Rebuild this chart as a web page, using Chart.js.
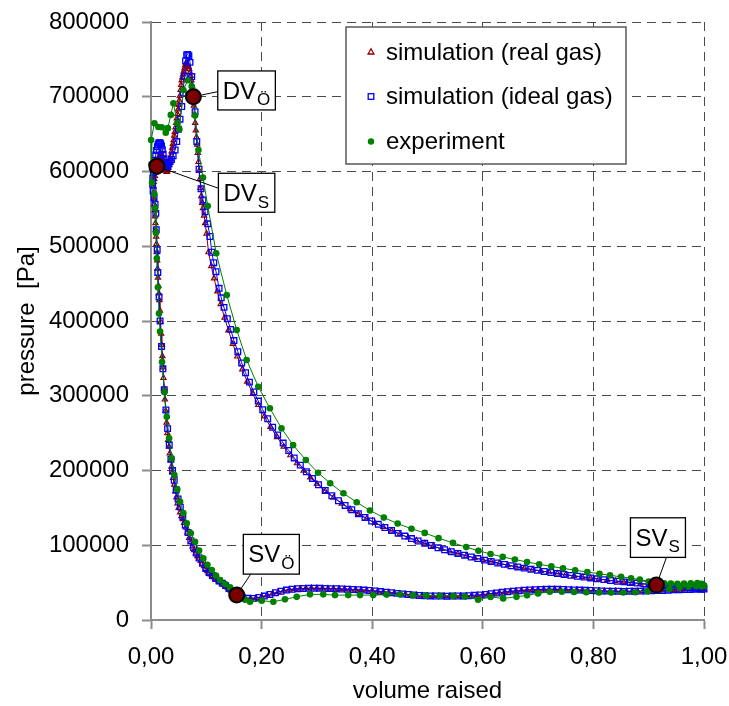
<!DOCTYPE html>
<html>
<head>
<meta charset="utf-8">
<title>p-V diagram</title>
<script src="https://cdn.jsdelivr.net/npm/chart.js@4.4.0/dist/chart.umd.min.js"></script>
<style>
  html, body { margin: 0; padding: 0; background: #ffffff; }
  canvas { display: block; }
</style>
</head>
<body>
<canvas id="pv" width="729" height="706"></canvas>
<script>
// ---- data: [volume raised, pressure in Pa] ----
const seriesNames = ['simulation (real gas)', 'simulation (ideal gas)', 'experiment'];

const realGas = [
  [0.914,46700],[0.900,47500],[0.885,48600],[0.870,49700],[0.855,50900],[0.840,52100],[0.825,53400],[0.810,54800],
  [0.795,56200],[0.780,57600],[0.765,59000],[0.750,60600],[0.735,62200],[0.720,63900],[0.705,65600],[0.690,67400],
  [0.675,69300],[0.660,71300],[0.645,73400],[0.630,75700],[0.615,78100],[0.600,80500],[0.585,83100],[0.570,85900],
  [0.555,88800],[0.540,91900],[0.525,95200],[0.510,98700],[0.495,102400],[0.480,106300],[0.465,110400],[0.450,114800],
  [0.435,119500],[0.420,124500],[0.405,129800],[0.390,135500],[0.375,141700],[0.360,148400],[0.345,155700],[0.330,163700],
  [0.315,172500],[0.300,182300],[0.288,190800],[0.276,199800],[0.264,209700],[0.252,220400],[0.240,232000],[0.228,244600],
  [0.216,258400],[0.205,272400],[0.194,287600],[0.184,302600],[0.174,319000],[0.165,335300],[0.156,352500],[0.148,369300],
  [0.140,387500],[0.133,404400],[0.126,422500],[0.120,439500],[0.114,457000],[0.109,473500],[0.104,492000],[0.1005,517000],
  [0.098,531000],[0.096,541000],[0.094,551000],[0.0925,558000],[0.091,567000],[0.0897,578000],[0.0885,590000],[0.0873,601000],
  [0.086,613000],[0.0848,625000],[0.0835,636000],[0.0822,646000],[0.081,655000],[0.0798,665000],[0.0786,676000],[0.0775,688000],
  [0.0766,700000],[0.0755,707000],[0.0742,715000],[0.073,722000],[0.0718,728000],[0.0705,733000],[0.0692,737000],[0.068,740000],
  [0.0668,742000],[0.0655,744000],[0.0642,745000],[0.063,745000],[0.0618,742000],[0.0605,738000],[0.0592,734000],[0.058,730000],
  [0.0568,726000],[0.0556,722000],[0.0545,716000],[0.0534,709000],[0.0522,701000],[0.0511,695000],[0.050,689000],[0.0489,683000],
  [0.0478,677000],[0.0466,671000],[0.0455,665000],[0.0443,659000],[0.0432,653000],[0.042,648000],[0.0408,642000],[0.0396,637000],
  [0.0385,632000],[0.0373,627000],[0.0361,622000],[0.035,617000],[0.0338,613000],[0.0326,609000],[0.0315,605000],[0.0303,602000],
  [0.0292,600000],[0.028,599500],[0.0268,601000],[0.0257,604000],[0.0245,608000],[0.0233,612000],[0.0221,616000],[0.021,620000],
  [0.0198,622000],[0.0186,623500],[0.0174,624000],[0.0163,623000],[0.0151,620000],[0.014,616000],[0.0128,612000],[0.0116,609000],
  [0.0105,607000],[0.0095,603000],[0.0082,598000],[0.007,594000],[0.0058,590000],[0.0048,586000],[0.0045,580000],[0.0048,572000],
  [0.0054,564000],[0.006,556000],[0.0067,548000],[0.0074,540000],[0.008,531000],[0.0087,522000],[0.0093,513000],[0.0099,503000],
  [0.0105,492000],[0.0112,481000],[0.0118,470000],[0.0126,458000],[0.0134,447000],[0.0143,437000],[0.0152,428000],[0.0162,414000],
  [0.0173,399000],[0.0184,383000],[0.0195,368000],[0.0205,353000],[0.0216,338000],[0.0226,324000],[0.0237,310000],[0.0251,295000],
  [0.0266,280000],[0.0281,264000],[0.0296,250000],[0.031,241000],[0.0325,232000],[0.034,223000],[0.0355,214000],[0.037,205000],
  [0.0385,197000],[0.040,190000],[0.042,181000],[0.044,172000],[0.046,164000],[0.048,156000],[0.050,150000],[0.0525,144000],
  [0.055,139000],[0.0575,135000],[0.060,130000],[0.063,124000],[0.066,117000],[0.069,110000],[0.072,104000],[0.075,98500],
  [0.078,93500],[0.081,89000],[0.084,85500],[0.087,82500],[0.090,79000],[0.093,75500],[0.096,72000],[0.099,68500],
  [0.102,65500],[0.105,63000],[0.108,61000],[0.111,59000],[0.114,57000],[0.117,55000],[0.120,53500],[0.123,52000],
  [0.126,50500],[0.129,49000],[0.132,47000],[0.135,45500],[0.138,43500],[0.141,41500],[0.144,39500],[0.147,37500],
  [0.150,35800],[0.153,34300],[0.155,33300],
  [0.160,31400],[0.170,29300],[0.180,28800],[0.190,29400],[0.200,31000],[0.210,33000],[0.220,35300],[0.230,37400],
  [0.240,39200],[0.250,40600],[0.260,41500],[0.270,42000],[0.280,42300],[0.290,42400],[0.300,42400],[0.310,42300],
  [0.320,42100],[0.330,41900],[0.340,41600],[0.350,41300],[0.360,41000],[0.370,40600],[0.380,40200],[0.390,39700],
  [0.400,39100],[0.410,38400],[0.420,37600],[0.430,36800],[0.440,36000],[0.450,35200],[0.460,34400],[0.470,33700],
  [0.480,33100],[0.490,32600],[0.500,32300],[0.510,32100],[0.520,32000],[0.530,31900],[0.540,31900],[0.550,32000],
  [0.560,32100],[0.570,32300],[0.580,32700],[0.590,33200],[0.600,33900],[0.610,34700],[0.620,35600],[0.630,36500],
  [0.640,37400],[0.650,38200],[0.660,38900],[0.670,39500],[0.680,40000],[0.690,40400],[0.700,40700],[0.710,40900],
  [0.720,41000],[0.730,41000],[0.740,40900],[0.750,40700],[0.760,40400],[0.770,40100],[0.780,39800],[0.790,39500],
  [0.800,39200],[0.810,38900],[0.820,38700],[0.830,38500],[0.840,38400],[0.850,38300],[0.860,38300],[0.870,38400],
  [0.880,38500],[0.890,38700],[0.900,38900],[0.910,39200],[0.920,39500],[0.930,39800],[0.940,40100],[0.950,40400],
  [0.960,40600],[0.970,40800],[0.980,41000],[0.990,41100],[1.000,41200],
  [0.995,41600],[0.990,42000],[0.980,42700],[0.970,43300],[0.960,43900],[0.950,44500],[0.940,45000],[0.930,45600],
  [0.920,46200],[0.914,46700]
];

const idealGas = [
  [0.914,46900],[0.903,47600],[0.891,48500],[0.879,49400],[0.867,50300],[0.855,51000],[0.843,51900],[0.831,52900],
  [0.819,54000],[0.807,55100],[0.795,56300],[0.783,57400],[0.771,58500],[0.759,59700],[0.747,61000],[0.735,62300],
  [0.723,63600],[0.711,65000],[0.699,66400],[0.687,67800],[0.675,69400],[0.663,71000],[0.651,72600],[0.639,74400],
  [0.627,76200],[0.615,78200],[0.603,80100],[0.591,82200],[0.579,84300],[0.567,86600],[0.555,89000],[0.543,91400],
  [0.531,94000],[0.519,96700],[0.507,99600],[0.495,102600],[0.483,105700],[0.471,108900],[0.459,112300],[0.447,115900],
  [0.435,119800],[0.423,123800],[0.411,128000],[0.399,132500],[0.387,137200],[0.375,142200],[0.363,147600],[0.351,153300],
  [0.339,159500],[0.327,166200],[0.315,173300],[0.303,181000],[0.292,189400],[0.281,198300],[0.270,207200],[0.259,216800],
  [0.249,226700],[0.239,236700],[0.229,247500],[0.220,257800],[0.211,269200],[0.202,281400],[0.194,292900],[0.186,305100],
  [0.178,318200],[0.171,330800],[0.164,343900],[0.157,359000],[0.150,373800],[0.144,388800],[0.138,403100],[0.132,418200],
  [0.127,431000],[0.1231,443700],[0.1176,466000],[0.1135,478000],[0.1099,492000],[0.1068,513000],[0.1025,530000],[0.0978,546000],
  [0.094,562000],[0.0905,577000],[0.0869,603000],[0.0828,640000],[0.0797,680000],[0.0765,706000],[0.0737,727000],[0.0705,746000],
  [0.0685,755000],[0.0665,756500],[0.0645,756000],[0.0625,748000],[0.0604,727000],[0.058,705000],[0.0556,687000],[0.0525,670000],
  [0.0495,656500],[0.0466,640000],[0.0436,628800],[0.040,621000],[0.037,616000],[0.0345,613200],[0.0323,610000],[0.0303,607400],
  [0.0285,606000],[0.0268,607500],[0.025,612000],[0.0235,617000],[0.022,623000],[0.0205,629000],[0.019,634000],[0.0175,637000],
  [0.016,638600],[0.0145,638400],[0.013,636500],[0.0115,633000],[0.010,628000],[0.0085,622000],[0.007,615000],[0.0055,607000],
  [0.0042,599000],[0.0032,591000],[0.003,583000],[0.0038,574000],[0.0055,565000],[0.0074,556000],[0.0087,544000],[0.0095,522000],
  [0.0112,495000],[0.0123,465000],[0.0146,432000],[0.0164,400000],[0.019,366000],[0.0215,336000],[0.024,308000],[0.027,281000],
  [0.030,256000],[0.033,234000],[0.036,215000],[0.039,200000],[0.042,187000],[0.0455,174000],[0.049,162000],[0.053,151000],
  [0.0575,138000],[0.062,127000],[0.067,117000],[0.072,106000],[0.077,97000],[0.082,89500],[0.087,83000],[0.093,76000],
  [0.099,69000],[0.105,63500],[0.111,59500],[0.117,55500],[0.123,52300],[0.129,49200],[0.135,46000],[0.141,42000],
  [0.147,38000],[0.152,35000],
  [0.158,32300],[0.165,30300],[0.175,29000],[0.185,28900],[0.195,30100],[0.205,32000],[0.215,34200],[0.225,36400],
  [0.235,38400],[0.245,40000],[0.255,41100],[0.265,41800],[0.275,42200],[0.285,42400],[0.295,42500],[0.305,42400],
  [0.315,42200],[0.325,42000],[0.335,41800],[0.345,41500],[0.355,41200],[0.365,40800],[0.375,40400],[0.385,40000],
  [0.395,39400],[0.405,38800],[0.415,38000],[0.425,37200],[0.435,36400],[0.445,35600],[0.455,34800],[0.465,34100],
  [0.475,33400],[0.485,32900],[0.495,32500],[0.505,32200],[0.515,32100],[0.525,32000],[0.535,31900],[0.545,32000],
  [0.555,32100],[0.565,32200],[0.575,32500],[0.585,33000],[0.595,33500],[0.605,34300],[0.615,35200],[0.625,36100],
  [0.635,37000],[0.645,37800],[0.655,38600],[0.665,39200],[0.675,39800],[0.685,40200],[0.695,40600],[0.705,40800],
  [0.715,41000],[0.725,41000],[0.735,41000],[0.745,40800],[0.755,40600],[0.765,40300],[0.775,40000],[0.785,39700],
  [0.795,39400],[0.805,39100],[0.815,38800],[0.825,38600],[0.835,38500],[0.845,38400],[0.855,38300],[0.865,38400],
  [0.875,38400],[0.885,38600],[0.895,38800],[0.905,39000],[0.915,39300],[0.925,39600],[0.935,39900],[0.945,40300],
  [0.955,40500],[0.965,40700],[0.975,40900],[0.985,41000],[0.995,41100],[1.000,41300],
  [0.996,41700],[0.990,42200],[0.982,42800],[0.972,43500],[0.962,44100],[0.951,44700],[0.940,45200],[0.928,45900],
  [0.914,46900]
];

const experiment = [
  [1.000,46000],[0.996,48300],[0.988,49400],[0.976,49000],[0.964,48600],[0.952,48400],[0.940,48600],[0.928,49200],
  [0.916,50100],[0.900,51500],[0.884,54000],[0.868,55800],[0.850,57700],[0.830,59800],[0.811,61900],[0.789,64200],
  [0.767,66600],[0.745,69100],[0.724,71700],[0.702,74500],[0.680,77600],[0.658,80900],[0.636,84400],[0.614,88300],
  [0.592,92600],[0.570,97500],[0.546,103200],[0.520,109500],[0.495,116500],[0.471,122000],[0.446,129000],[0.421,137000],
  [0.396,146500],[0.372,157500],[0.348,169500],[0.324,183000],[0.302,197000],[0.280,214000],[0.257,234000],[0.236,256400],
  [0.215,283200],[0.194,312100],[0.173,347800],[0.155,388000],[0.137,434800],[0.118,490600],[0.1026,553900],[0.094,592000],
  [0.0857,628800],[0.0797,675000],[0.0737,714000],[0.0665,722000],[0.0585,709100],[0.0513,656500],[0.0477,664500],[0.0405,691300],
  [0.0358,675700],[0.0305,658000],[0.0267,652000],[0.0195,659100],[0.0134,659500],[0.0062,664500],[0.0002,642200],[0.0008,610000],
  [0.0018,585000],[0.0061,570000],[0.0074,551000],[0.0090,518000],[0.0105,484000],[0.0125,445000],[0.0145,410000],[0.0164,386000],
  [0.0200,345000],[0.0242,304600],[0.0285,272000],[0.0327,243000],[0.0375,216000],[0.0423,194000],[0.0475,175000],[0.0526,158200],
  [0.0585,143000],[0.0647,129300],[0.0720,116000],[0.0797,104600],[0.0870,93000],[0.0947,82400],[0.1020,74000],[0.1099,66800],
  [0.1175,59500],[0.1249,53400],[0.1340,48000],[0.1429,43600],[0.1520,37000],[0.1610,31000],[0.1700,27000],[0.1790,24400],
  [0.2002,25700],[0.2212,24400],[0.2423,27600],[0.2635,31000],[0.2875,34300],[0.3115,34300],[0.3327,33300],[0.3567,33300],
  [0.3780,33300],[0.4019,33300],[0.4260,34000],[0.4500,34300],[0.4740,33000],[0.4980,32600],[0.5220,32400],[0.5465,32000],
  [0.5676,31500],[0.5916,27100],[0.6140,30800],[0.6368,28900],[0.6610,31000],[0.6800,33000],[0.7000,35600],[0.7212,37700],
  [0.7430,37800],[0.7650,37500],[0.7870,37200],[0.8100,36900],[0.8320,36700],[0.8540,36800],[0.8760,37200],[0.8980,38600],
  [0.9180,40000],[0.9370,41500],[0.9560,43400],[0.9720,44600],[0.9860,45200],[0.9960,44800],[1.000,46000]
];

// valve events: DV = discharge valve, SV = suction valve; Ö = opens, S = closes
const valveNames = ['DV', 'DV', 'SV', 'SV'];
const valveSubs = ['Ö', 'S', 'Ö', 'S'];
const valveVolume = [0.0766, 0.0105, 0.155, 0.914];
const valvePressure = [700000, 607000, 33300, 46700];

const xTickValues = [0, 0.2, 0.4, 0.6, 0.8, 1.0];
const xTickLabels = ['0,00', '0,20', '0,40', '0,60', '0,80', '1,00'];
const yTickValues = [0, 100000, 200000, 300000, 400000, 500000, 600000, 700000, 800000];
const yTickLabels = ['0', '100000', '200000', '300000', '400000', '500000', '600000', '700000', '800000'];
const xTitle = 'volume raised';
const yTitle = 'pressure  [Pa]';

// ---- styling ----
const FONT = "'Liberation Sans', Arial, Helvetica, sans-serif";
const RED = '#8b0000', BLUE = '#0000ff', GREEN = '#008000';
Chart.defaults.font.family = FONT;
Chart.defaults.font.size = 24;
Chart.defaults.color = '#000000';

const toXY = arr => arr.map(([x, y]) => ({ x, y }));

// label boxes placed relative to each valve marker (pixel offsets)
const valveBoxes = [
  { dx: 24.4, dy: -25.8, w: 57.6, h: 39, ax: 0, ay: 20.7 },
  { dx: 61.6, dy: 7.0, w: 56.4, h: 39, ax: 0, ay: 15 },
  { dx: 6.6, dy: -60.7, w: 56, h: 39.7, ax: 7.4, ay: 39.7 },
  { dx: -26, dy: -67.3, w: 55, h: 39.6, ax: 36, ay: 39.6 }
];

const backgroundPlugin = {
  id: 'whiteBackground',
  beforeDraw(chart) {
    const { ctx, width, height } = chart;
    ctx.save();
    ctx.fillStyle = '#ffffff';
    ctx.fillRect(0, 0, width, height);
    ctx.restore();
  }
};

const valvePlugin = {
  id: 'valveMarks',
  afterDatasetsDraw(chart) {
    const { ctx, scales: { x, y } } = chart;
    ctx.save();
    valveNames.forEach((name, i) => {
      const cx = x.getPixelForValue(valveVolume[i]);
      const cy = y.getPixelForValue(valvePressure[i]);
      const b = valveBoxes[i];
      const bx = cx + b.dx, by = cy + b.dy;
      // leader line
      ctx.strokeStyle = '#000';
      ctx.lineWidth = 1;
      ctx.beginPath();
      ctx.moveTo(cx, cy);
      ctx.lineTo(bx + b.ax, by + b.ay);
      ctx.stroke();
      // marker
      ctx.beginPath();
      ctx.arc(cx, cy, 7.5, 0, Math.PI * 2);
      ctx.fillStyle = '#7a0000';
      ctx.fill();
      ctx.lineWidth = 2;
      ctx.strokeStyle = '#000';
      ctx.stroke();
      // label box
      ctx.fillStyle = '#ffffff';
      ctx.fillRect(bx, by, b.w, b.h);
      ctx.lineWidth = 1.3;
      ctx.strokeStyle = '#000';
      ctx.strokeRect(bx, by, b.w, b.h);
      ctx.fillStyle = '#000';
      ctx.textAlign = 'left';
      ctx.textBaseline = 'alphabetic';
      ctx.font = '24px ' + FONT;
      ctx.fillText(name, bx + 5, by + 28);
      const w = ctx.measureText(name).width;
      ctx.font = '17px ' + FONT;
      ctx.fillText(valveSubs[i], bx + 5 + w + 1, by + 34.5);
    });
    ctx.restore();
  }
};

const legendPlugin = {
  id: 'legendBox',
  afterDraw(chart) {
    const { ctx, chartArea } = chart;
    const left = chartArea.left + 195, top = chartArea.top + 5;
    const w = 280, h = 137;
    ctx.save();
    ctx.fillStyle = '#ffffff';
    ctx.fillRect(left, top, w, h);
    ctx.strokeStyle = '#5a5a5a';
    ctx.lineWidth = 1.5;
    ctx.strokeRect(left, top, w, h);
    const mx = left + 25, tx = left + 40;
    const rows = [top + 25, top + 69.5, top + 114.5];
    // triangle
    ctx.strokeStyle = RED; ctx.lineWidth = 1.3;
    ctx.beginPath();
    ctx.moveTo(mx, rows[0] - 3.2);
    ctx.lineTo(mx + 2.9, rows[0] + 2);
    ctx.lineTo(mx - 2.9, rows[0] + 2);
    ctx.closePath();
    ctx.stroke();
    // square
    ctx.strokeStyle = BLUE;
    ctx.strokeRect(mx - 2.8, rows[1] - 2.8, 5.6, 5.6);
    // dot
    ctx.fillStyle = GREEN;
    ctx.beginPath();
    ctx.arc(mx, rows[2], 3.2, 0, Math.PI * 2);
    ctx.fill();
    ctx.fillStyle = '#000';
    ctx.font = '24px ' + FONT;
    ctx.textAlign = 'left';
    ctx.textBaseline = 'middle';
    seriesNames.forEach((name, i) => ctx.fillText(name, tx, rows[i] + 1));
    ctx.restore();
  }
};

const gridCommon = {
  color: '#4a4a4a',
  lineWidth: 1,
  tickColor: '#8c8c8c',
  tickWidth: 2,
  tickLength: 9,
  drawTicks: true
};

new Chart(document.getElementById('pv'), {
  type: 'scatter',
  data: {
    datasets: [
      {
        label: seriesNames[0], data: toXY(realGas), showLine: true, tension: 0,
        borderColor: RED, borderWidth: 1,
        pointStyle: 'triangle', pointRadius: 3, pointBorderWidth: 1.2,
        pointBorderColor: RED, pointBackgroundColor: 'rgba(255,255,255,0)',
        order: 2, clip: false
      },
      {
        label: seriesNames[1], data: toXY(idealGas), showLine: true, tension: 0,
        borderColor: BLUE, borderWidth: 1,
        pointStyle: 'rect', pointRadius: 4, pointBorderWidth: 1.3,
        pointBorderColor: BLUE, pointBackgroundColor: 'rgba(255,255,255,0)',
        order: 1, clip: false
      },
      {
        label: seriesNames[2], data: toXY(experiment), showLine: true, tension: 0,
        borderColor: GREEN, borderWidth: 1,
        pointStyle: 'circle', pointRadius: 3.3, pointBorderWidth: 0,
        pointBorderColor: GREEN, pointBackgroundColor: GREEN,
        order: 0, clip: false
      }
    ]
  },
  options: {
    responsive: false,
    animation: false,
    devicePixelRatio: 1,
    events: [],
    layout: { padding: { top: 22, right: 25, left: 0, bottom: 0 } },
    plugins: {
      legend: { display: false },
      tooltip: { enabled: false }
    },
    scales: {
      x: {
        type: 'linear', min: 0, max: 1,
        afterBuildTicks: s => { s.ticks = xTickValues.map(value => ({ value })); },
        afterFit: s => { s.height = 86; s.paddingLeft = 0; s.paddingRight = 0; },
        ticks: { callback: (v, i) => xTickLabels[i], padding: 14, maxRotation: 0, autoSkip: false },
        grid: gridCommon,
        border: { display: true, color: '#8c8c8c', width: 2, dash: [9, 6] },
        title: { display: true, text: xTitle, padding: { top: 0, bottom: 0 } }
      },
      y: {
        type: 'linear', min: 0, max: 800000,
        afterBuildTicks: s => { s.ticks = yTickValues.map(value => ({ value })); },
        afterFit: s => { s.width = 151; s.paddingTop = 0; s.paddingBottom = 0; },
        ticks: { callback: (v, i) => yTickLabels[i], padding: 13, autoSkip: false },
        grid: gridCommon,
        border: { display: true, color: '#8c8c8c', width: 2, dash: [9, 6] },
        title: { display: true, text: yTitle, padding: { top: 13, bottom: 0 } }
      }
    }
  },
  plugins: [backgroundPlugin, valvePlugin, legendPlugin]
});
</script>
</body>
</html>
